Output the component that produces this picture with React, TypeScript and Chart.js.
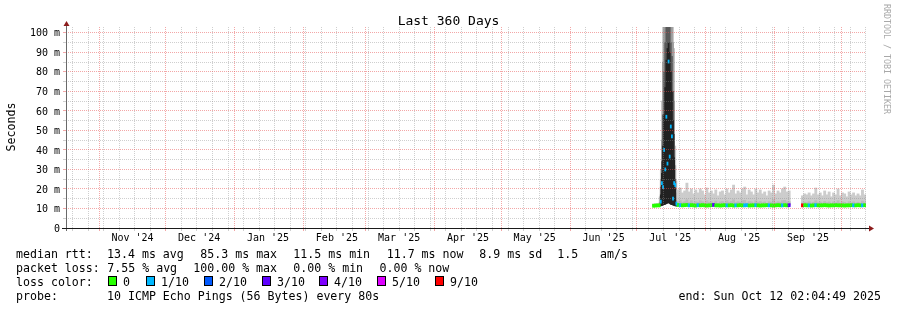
import { useEffect, useRef } from "react";
import { Chart, registerables } from "chart.js";

Chart.register(...registerables);

// ---------------- texts ----------------
const TITLE = "Last 360 Days";
const Y_TITLE = "Seconds";
const WATERMARK = "RRDTOOL / TOBI OETIKER";
const END_TIME = "2025-10-12T02:04:49";
const SPAN_DAYS = 360;

// ---------------- axis ticks ----------------
const monthStarts = [
  "2024-11-01", "2024-12-01", "2025-01-01", "2025-02-01", "2025-03-01", "2025-04-01",
  "2025-05-01", "2025-06-01", "2025-07-01", "2025-08-01", "2025-09-01", "2025-10-01",
];
const monthLabels = [
  "Nov '24", "Dec '24", "Jan '25", "Feb '25", "Mar '25", "Apr '25",
  "May '25", "Jun '25", "Jul '25", "Aug '25", "Sep '25",
];
const yMajorTicks = [0, 10, 20, 30, 40, 50, 60, 70, 80, 90, 100];
const yMajorLabels = ["0", "10 m", "20 m", "30 m", "40 m", "50 m", "60 m", "70 m", "80 m", "90 m", "100 m"];
const yMinorTicks = [5, 15, 25, 35, 45, 55, 65, 75, 85, 95];
const Y_MAX = 103;

// ---------------- daily data (ms), first day 2025-07-08 ----------------
const dailyStart = "2025-07-08";
const medianDaily = [
  11.4, 11.5, 11.6,
  null, null, null, null, null, null, null, null,
  11.8, 11.7, 11.6, 11.7, 11.8, 11.6, 11.7, 11.6, 11.5, 11.7,
  11.6, 11.7, 11.6, 11.5, 11.6, 11.7, 11.8, 11.6, 11.6, 11.5,
  11.6, 11.7, 11.6, 11.6, 11.7, 11.5, 11.6, 11.6, 11.7, 11.6,
  11.6, 11.7, 11.5, 11.6, 11.6, 11.7, 11.6, 11.5, 11.6, 11.6,
  11.7, 11.6, 11.6, 11.5, 11.6, 11.7, 11.6, 11.6, 11.7, 11.6, 11.7,
  null, null, null, null, null,
  11.6, 11.7, 11.6, 11.6, 11.5, 11.6, 11.7, 11.6, 11.6, 11.6,
  11.7, 11.6, 11.5, 11.6, 11.6, 11.7, 11.6, 11.6, 11.6, 11.5,
  11.6, 11.6, 11.7, 11.6, 11.6, 11.7, 11.6, 11.6, 11.7,
];
const lossDaily = [
  0, 0, 0, 0, 0, 0, 0, 0, 0, 0,
  0, 0, 1, 0, 0, 0, 1, 0, 0, 0,
  1, 0, 0, 0, 0, 0, 0, 3, 0, 0,
  0, 0, 0, 1, 0, 0, 0, 1, 0, 0,
  0, 1, 1, 0, 0, 0, 1, 0, 0, 0,
  0, 0, 1, 0, 0, 0, 0, 0, 1, 0,
  0, 3, 0, 0, 0, 0, 0, 9, 0, 0,
  1, 0, 0, 1, 0, 0, 0, 0, 0, 0,
  0, 0, 0, 0, 0, 0, 0, 0, 0, 0,
  1, 0, 0, 0, 1, 0,
];
const smokeInnerDaily = [
  11.9, 12.0, 12.0,
  null, null, null, null, null, null, null, null,
  13.5, 14, 13, 13.5, 14.5, 13, 14, 12.8, 13.5, 13.2,
  14, 13.5, 12.8, 14, 13.2, 13.5, 12.8, 13.8, 12.6, 13.4,
  13.6, 12.8, 14, 13.2, 13.6, 14.5, 13, 13.5, 13.2, 14,
  14.2, 12.8, 13.6, 13.4, 12.8, 14, 13.2, 13.6, 13, 13.4,
  12.6, 13.5, 13.2, 14.5, 13, 13.5, 13.2, 14, 14.2, 13.4, 13.5,
  null, null, null, null, null,
  12.8, 13.2, 13, 13.5, 12.8, 13.2, 14, 13, 13.4, 12.8,
  13.6, 13, 13.4, 12.6, 13.4, 13, 14, 12.8, 13.4, 13.2,
  12.6, 13.5, 13, 13.4, 12.8, 13.2, 12.8, 13.8, 13,
];
const smokeOuterDaily = [
  12.3, 12.5, 12.4,
  null, null, null, null, null, null, null, null,
  19.5, 20.5, 18, 19, 23, 18.5, 20, 17.5, 19.5, 18,
  20, 19, 17, 20.5, 18, 19, 17.5, 19.5, 16.5, 18.5,
  19, 17, 20, 18, 19.5, 22, 17.5, 19, 18, 20,
  21, 17, 19.5, 18.5, 17, 20, 18, 19.5, 17.5, 18.5,
  16.5, 19, 18, 22, 17.5, 19, 18, 20, 21, 18.5, 19,
  null, null, null, null, null,
  16.5, 17.5, 17, 18, 16.5, 17.5, 20.5, 17, 18, 16.5,
  19, 17, 18.5, 16, 18, 17, 20, 16.5, 18, 17.5,
  16, 18.5, 17, 18, 16.5, 17.5, 16.5, 19.5, 17,
];

// ---------------- July spike, half-day steps from 2025-07-11 06:00 ----------------
const spikeStart = "2025-07-11T06:00:00";
const spikeMedian = [11.6, 13.5, 23, 21, 40, 30, 57, 33, 85.3, 36.6, 52, 47, 15, 23, 22, 12.5];
const spikeLoss = [0, 1, 1, 1, 1, 1, 1, 1, 1, 1, 1, 1, 1, 1, 1, 1];
const spikeMin = [11.3, 11.4, 11.6, 11.8, 12.0, 12.2, 12.5, 12.8, 13.0, 12.6, 12.2, 12.0, 11.8, 11.6, 11.4, 11.3];
const spikeCore = [12, 17, 28, 42, 58, 72, 86, 92, 95, 90, 80, 70, 55, 36, 20, 12.5];
const spikeDark = [12.5, 21, 34, 58, 80, 95, 110, 110, 110, 105, 95, 88, 70, 48, 25, 14];
const spikeMid = [13, 25, 45, 85, 110, 110, 110, 110, 110, 110, 110, 105, 95, 65, 32, 18];
const spikeOuter = [16, 30, 65, 110, 110, 110, 110, 110, 110, 110, 110, 110, 110, 92, 42, 24];

// ---------------- legend ----------------
const lossSteps = [0, 1, 2, 3, 4, 5, 9];
const lossNames = ["0", "1/10", "2/10", "3/10", "4/10", "5/10", "9/10"];
const lossColors = ["#26ff00", "#00b8ff", "#0059ff", "#5e00ff", "#7e00ff", "#dd00ff", "#ff0000"];
const statsRtt = ["median rtt:", "13.4 ms avg", "85.3 ms max", "11.5 ms min", "11.7 ms now", "8.9 ms sd", "1.5", "am/s"];
const statsLoss = ["packet loss:", "7.55 % avg", "100.00 % max", "0.00 % min", "0.00 % now"];
const probeText = ["probe:", "10 ICMP Echo Pings (56 Bytes) every 80s"];
const endText = "end: Sun Oct 12 02:04:49 2025";
const lossLabel = "loss color:";

// ---------------- helpers ----------------
const DAY = 86400000;
const ts = (s: string) => Date.parse(s.length === 10 ? s + "T00:00:00Z" : s + "Z");
const endMs = ts(END_TIME);
const startMs = endMs - SPAN_DAYS * DAY;
const lossColor = (step: number) => lossColors[Math.max(0, lossSteps.indexOf(step))];

const MONO = '"DejaVu Sans Mono", monospace';
const GRID_MINOR = "rgba(140,140,140,0.42)";
const GRID_MAJOR = "rgba(232,80,80,0.5)";
const MEDIAN_HALF = 0.8;
const PLOT_WIDTH = 800;
const PX_PER_DAY = PLOT_WIDTH / SPAN_DAYS;

const monthMs = monthStarts.map(ts);
const labelMs = monthLabels.map((_, i) => monthMs[i] + 15 * DAY);
const labelMap = new Map<number, string>(labelMs.map((v, i) => [v, monthLabels[i]]));
const majorX = new Set<number>(monthMs);
const weekX = new Set<number>();
{
  const first = Math.ceil(startMs / DAY) * DAY;
  for (let t = first; t <= endMs; t += DAY) if (new Date(t).getUTCDay() === 0) weekX.add(t);
}
const xTickValues = Array.from(new Set<number>([...weekX, ...monthMs, ...labelMs]))
  .filter((v) => v >= startMs && v <= endMs)
  .sort((a, b) => a - b);

const xGridColor = (v: number) =>
  majorX.has(v) ? GRID_MAJOR : weekX.has(v) ? GRID_MINOR : "rgba(0,0,0,0)";
const yGridColor = (v: number) => (yMajorTicks.includes(v) ? GRID_MAJOR : GRID_MINOR);

const decor = {
  id: "smokepingDecor",
  afterDraw(chart: any) {
    const { ctx, chartArea: a } = chart;
    ctx.save();
    // axes
    ctx.lineWidth = 1;
    ctx.strokeStyle = "#6a6a6a";
    ctx.beginPath();
    ctx.moveTo(a.left + 0.5, a.bottom + 3);
    ctx.lineTo(a.left + 0.5, a.top - 3);
    ctx.stroke();
    ctx.strokeStyle = "#1a1a1a";
    ctx.beginPath();
    ctx.moveTo(a.left - 4, a.bottom + 0.5);
    ctx.lineTo(a.right + 3, a.bottom + 0.5);
    ctx.stroke();
    // arrows
    ctx.fillStyle = "#8c1c1c";
    ctx.beginPath();
    ctx.moveTo(a.left + 0.5, a.top - 6);
    ctx.lineTo(a.left - 2.5, a.top - 1);
    ctx.lineTo(a.left + 3.5, a.top - 1);
    ctx.closePath();
    ctx.fill();
    ctx.beginPath();
    ctx.moveTo(a.right + 8, a.bottom + 0.5);
    ctx.lineTo(a.right + 3, a.bottom - 2.5);
    ctx.lineTo(a.right + 3, a.bottom + 3.5);
    ctx.closePath();
    ctx.fill();

    // title
    ctx.fillStyle = "#000";
    ctx.textBaseline = "alphabetic";
    ctx.font = `13px ${MONO}`;
    ctx.textAlign = "center";
    ctx.fillText(TITLE, chart.width / 2, 25);

    // y title
    ctx.save();
    ctx.translate(15, 127);
    ctx.rotate(-Math.PI / 2);
    ctx.font = `11.6px ${MONO}`;
    ctx.textAlign = "center";
    ctx.fillText(Y_TITLE, 0, 0);
    ctx.restore();

    // watermark
    ctx.save();
    ctx.translate(884, 4);
    ctx.rotate(Math.PI / 2);
    ctx.font = `8.3px ${MONO}`;
    ctx.fillStyle = "#a8a8a8";
    ctx.textAlign = "left";
    ctx.fillText(WATERMARK, 0, 0);
    ctx.restore();

    // legend block
    ctx.font = `11.6px ${MONO}`;
    ctx.textAlign = "left";
    ctx.fillStyle = "#000";
    const rttX = [16, 107, 200.3, 293.3, 386.7, 479.3, 557.3, 600];
    statsRtt.forEach((s, i) => ctx.fillText(s, rttX[i], 258));
    const lossX = [16, 107.3, 193.3, 293.3, 379.5];
    statsLoss.forEach((s, i) => ctx.fillText(s, lossX[i], 272));
    ctx.fillText(lossLabel, 16, 286);
    const boxX = [108, 146, 204, 262, 319, 377, 435];
    lossNames.forEach((n, i) => {
      ctx.fillStyle = lossColors[i];
      ctx.fillRect(boxX[i], 277, 8, 9);
      ctx.strokeStyle = "#000";
      ctx.strokeRect(boxX[i] + 0.5, 276.5, 8, 9);
      ctx.fillStyle = "#000";
      ctx.fillText(n, boxX[i] + 15, 286);
    });
    ctx.fillText(probeText[0], 16, 300);
    ctx.fillText(probeText[1], 107, 300);
    ctx.textAlign = "right";
    ctx.fillText(endText, 881, 300);
    ctx.restore();
  },
};

export default function App() {
  const ref = useRef<HTMLCanvasElement | null>(null);
  useEffect(() => {
    const canvas = ref.current;
    if (!canvas) return;
    const d0 = ts(dailyStart);
    const s0 = ts(spikeStart);
    const dx = (i: number) => d0 + (i + 0.5) * DAY;
    const sx = (i: number) => s0 + i * (DAY / 2);

    const dailyBars = (top: (number | null)[]) =>
      top.map((v, i) => ({ x: dx(i), y: v == null || medianDaily[i] == null ? null : [medianDaily[i] as number, v] }));
    const spikeBars = (top: number[]) => top.map((v, i) => ({ x: sx(i), y: [spikeMin[i], v] }));

    const dayW = PX_PER_DAY;
    const halfW = PX_PER_DAY / 2;
    const datasets: any[] = [
      { label: "spike outer", data: spikeBars(spikeOuter), backgroundColor: "#c6c6c6", order: 9, barThickness: halfW },
      { label: "spike mid", data: spikeBars(spikeMid), backgroundColor: "#9c9c9c", order: 8, barThickness: halfW },
      { label: "spike dark", data: spikeBars(spikeDark), backgroundColor: "#5a5a5a", order: 7, barThickness: halfW },
      { label: "spike core", data: spikeBars(spikeCore), backgroundColor: "#222222", order: 6, barThickness: halfW },
      { label: "smoke outer", data: dailyBars(smokeOuterDaily), backgroundColor: "#cccccc", order: 5, barThickness: dayW },
      { label: "smoke inner", data: dailyBars(smokeInnerDaily), backgroundColor: "#bbbbbb", order: 4, barThickness: dayW },
      {
        label: "median",
        data: medianDaily.map((m, i) => ({ x: dx(i), y: m == null ? null : [m - MEDIAN_HALF, m + MEDIAN_HALF] })),
        backgroundColor: lossDaily.map(lossColor),
        order: 1,
        barThickness: dayW,
      },
      {
        label: "spike median",
        data: spikeMedian.map((m, i) => ({ x: sx(i), y: [m - MEDIAN_HALF, m + MEDIAN_HALF] })),
        backgroundColor: spikeLoss.map(lossColor),
        order: 0,
        barThickness: halfW,
      },
    ];

    const chart = new Chart(canvas, {
      type: "bar",
      data: { datasets },
      options: {
        responsive: false,
        animation: false,
        devicePixelRatio: 1,
        events: [],
        layout: { padding: { top: 27, right: 31, bottom: 0, left: 0 } },
        plugins: { legend: { display: false }, tooltip: { enabled: false }, title: { display: false } },
        datasets: {
          bar: { grouped: false, barPercentage: 1, categoryPercentage: 1, borderWidth: 0 },
        },
        scales: {
          x: {
            type: "linear",
            min: startMs,
            max: endMs,
            offset: false,
            afterBuildTicks: (scale: any) => {
              scale.ticks = xTickValues.map((value) => ({ value }));
            },
            afterFit: (scale: any) => {
              scale.height = 82;
            },
            grid: {
              offset: false,
              z: 1,
              color: (c: any) => xGridColor(c.tick.value),
              tickColor: (c: any) => xGridColor(c.tick.value),
              tickLength: 3,
              lineWidth: 1,
            },
            border: { display: false, dash: [1, 1] },
            ticks: {
              autoSkip: false,
              maxRotation: 0,
              minRotation: 0,
              padding: 1,
              color: "#000",
              font: { family: MONO, size: 10 },
              callback: (v: any) => labelMap.get(Number(v)) ?? "",
            },
          },
          y: {
            type: "linear",
            min: 0,
            max: Y_MAX,
            afterBuildTicks: (scale: any) => {
              scale.ticks = [...yMajorTicks, ...yMinorTicks].sort((a, b) => a - b).map((value) => ({ value }));
            },
            afterFit: (scale: any) => {
              scale.width = 66;
            },
            grid: {
              z: 1,
              color: (c: any) => yGridColor(c.tick.value),
              tickColor: (c: any) => yGridColor(c.tick.value),
              tickLength: 3,
              lineWidth: 1,
            },
            border: { display: false, dash: [1, 1] },
            ticks: {
              autoSkip: false,
              padding: 3,
              labelOffset: 1,
              color: "#000",
              font: { family: MONO, size: 10 },
              callback: (v: any) => {
                const k = yMajorTicks.indexOf(Number(v));
                return k >= 0 ? yMajorLabels[k] : "";
              },
            },
          },
        },
      } as any,
      plugins: [decor],
    });
    return () => chart.destroy();
  }, []);

  return (
    <div style={{ position: "absolute", left: 0, top: 0, width: 897, height: 310, background: "#fff" }}>
      <canvas ref={ref} width={897} height={310} style={{ width: 897, height: 310, display: "block" }} />
    </div>
  );
}
